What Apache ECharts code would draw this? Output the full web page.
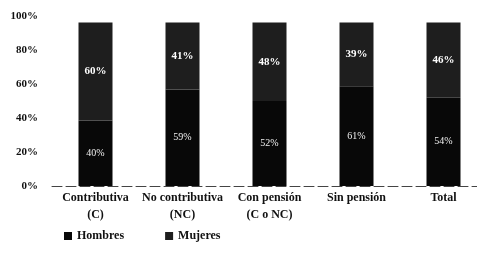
<!DOCTYPE html>
<html><head><meta charset="utf-8">
<script src="https://cdn.jsdelivr.net/npm/echarts@6/dist/echarts.min.js"></script>
<style>html,body{margin:0;padding:0;background:#fff}#c{width:477px;height:258px}</style>
</head><body><div id="c"></div>
<script>
var categories = ['Contributiva\n(C)', 'No contributiva\n(NC)', 'Con pensión\n(C o NC)', 'Sin pensión', 'Total'];
var hombres = [40, 59, 52, 61, 54];
var mujeres = [60, 41, 48, 39, 46];
var yTicks = [0, 20, 40, 60, 80, 100];

var font = 'Liberation Serif';
var chart = echarts.init(document.getElementById('c'));
chart.setOption({
  animation: false,
  backgroundColor: '#fff',
  grid: { left: 52, width: 435, top: 16, bottom: 72, containLabel: false, outerBoundsMode: 'none' },
  legend: {
    left: 59, top: 225, itemWidth: 8, itemHeight: 8, itemGap: 41,
    icon: 'rect',
    textStyle: { fontFamily: font, fontSize: 12, fontWeight: 'bold', color: '#111', padding: [-6, 0, 0, 0] },
    data: ['Hombres', 'Mujeres']
  },
  xAxis: {
    type: 'category', data: categories,
    axisLine: { lineStyle: { color: '#444', type: [10, 4], width: 1 } },
    axisTick: { show: false },
    axisLabel: { fontFamily: font, fontSize: 12, fontWeight: 'bold', color: '#111', lineHeight: 17, margin: 3, interval: 0 }
  },
  yAxis: [{
    type: 'value', min: 0, max: 100, interval: 20,
    axisLabel: { formatter: function (v) { return yTicks.indexOf(v) >= 0 ? v + '%' : ''; },
      fontFamily: font, fontSize: 11, fontWeight: 'bold', color: '#111', margin: 14 },
    splitLine: { show: false }, axisLine: { show: false }, axisTick: { show: false }
  }, {
    type: 'value', min: 0, max: 104, show: false, splitLine: { show: false }
  }],
  series: [{
    name: 'Hombres', type: 'bar', stack: 's', yAxisIndex: 1, data: hombres, barWidth: 34,
    itemStyle: { color: '#080808' },
    label: { show: true, position: 'inside', formatter: '{c}%', color: '#eee', fontFamily: font, fontSize: 10 }
  }, {
    name: 'Mujeres', type: 'bar', stack: 's', yAxisIndex: 1, data: mujeres, barWidth: 34,
    itemStyle: { color: '#1e1e1e' },
    label: { show: true, position: 'inside', formatter: '{c}%', color: '#fff', fontFamily: font, fontSize: 11, fontWeight: 'bold' }
  }]
});
</script></body></html>
